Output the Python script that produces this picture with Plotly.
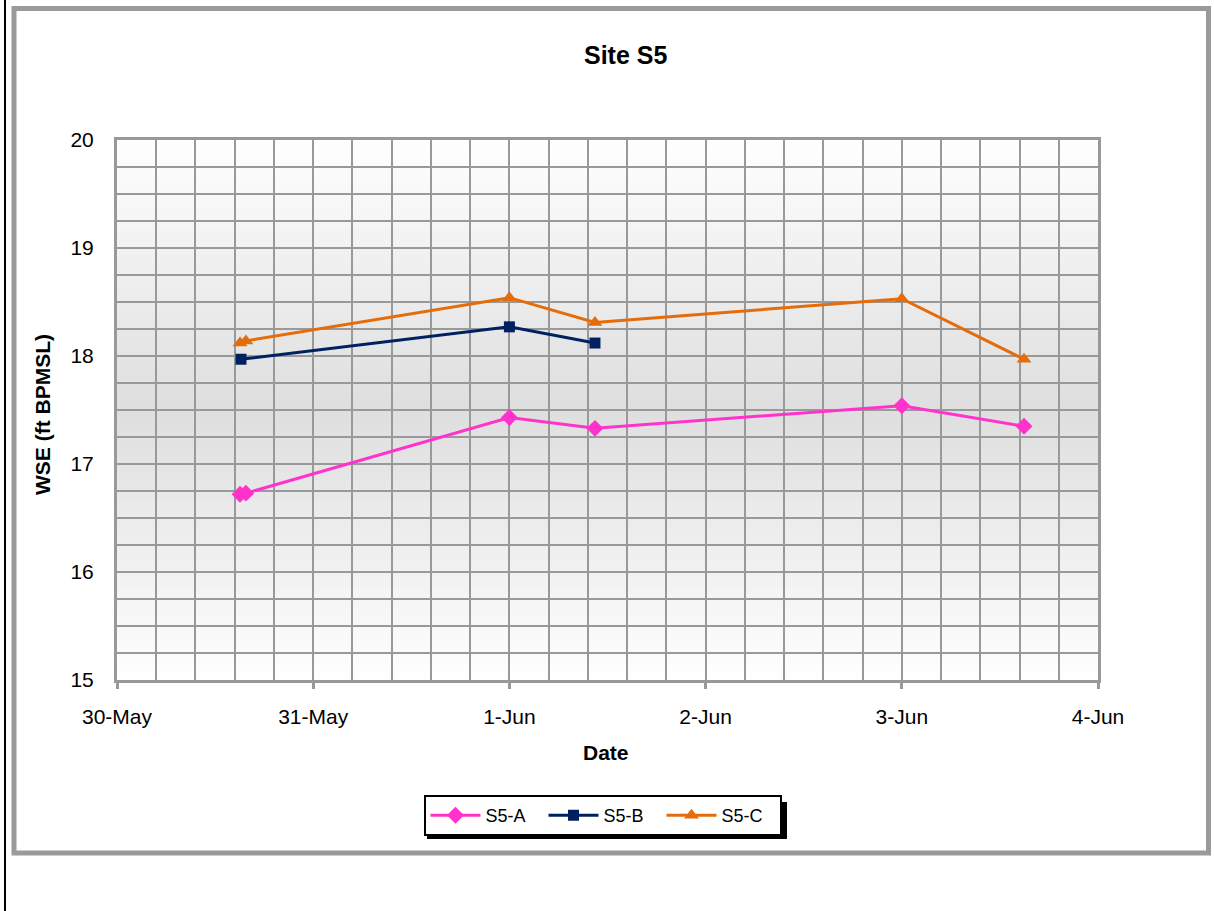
import plotly.graph_objects as go

# ---- data ----
dates_a = ["2008-05-30 15:03", "2008-05-30 15:46", "2008-06-01 00:00",
           "2008-06-01 10:28", "2008-06-03 00:00", "2008-06-03 14:57"]
wse_a = [16.72, 16.73, 17.43, 17.33, 17.54, 17.35]

dates_b = ["2008-05-30 15:10", "2008-06-01 00:00", "2008-06-01 10:28"]
wse_b = [17.97, 18.27, 18.12]

dates_c = ["2008-05-30 15:03", "2008-05-30 15:46", "2008-06-01 00:00",
           "2008-06-01 10:28", "2008-06-03 00:00", "2008-06-03 14:57"]
wse_c = [18.12, 18.14, 18.54, 18.31, 18.53, 17.97]

series_names = ["S5-A", "S5-B", "S5-C"]
x_range = ["2008-05-30", "2008-06-04"]
y_range = [15, 20]

FONT = "Liberation Sans, Arial, sans-serif"
W, H = 1214, 911
L, R, T, B = 117, 1098, 140, 680  # plot area in pixels


def px(x):
    return (x - L) / (R - L)


def py(y):
    return (B - y) / (B - T)


fig = go.Figure()
styles = [
    (dates_a, wse_a, "#FF33CC", "diamond", 13),
    (dates_b, wse_b, "#002060", "square", 11),
    (dates_c, wse_c, "#E46C0A", "triangle-up", 13),
]
for name, (xs, ys, col, sym, sz) in zip(series_names, styles):
    fig.add_trace(go.Scatter(
        x=xs, y=ys, name=name, mode="lines+markers",
        line=dict(color=col, width=3),
        marker=dict(color=col, symbol=sym, size=sz),
    ))

shapes = []
# gradient background (white -> gray -> white)
n = 60
for i in range(n):
    y0 = i / n
    y1 = (i + 1) / n
    t = (y0 + y1) / 2
    mid = 0.5
    d = abs(t - mid) / mid
    v = int(round(222 + (255 - 222) * d))
    shapes.append(dict(type="rect", xref="x domain", yref="y domain",
                       x0=0, x1=1, y0=y0, y1=y1 + 0.001, layer="below",
                       line=dict(width=0), fillcolor=f"rgb({v},{v},{v})"))
# outer gray frame
shapes.append(dict(type="rect", xref="paper", yref="paper",
                   x0=px(14), x1=px(1208.5), y0=py(8.5), y1=py(853),
                   line=dict(color="#9a9a9a", width=5), fillcolor="rgba(0,0,0,0)",
                   layer="below"))
# black line at far left
shapes.append(dict(type="line", xref="paper", yref="paper",
                   x0=px(5), x1=px(5), y0=py(0), y1=py(911),
                   line=dict(color="black", width=2)))
# legend shadow
shapes.append(dict(type="rect", xref="paper", yref="paper",
                   x0=px(427), x1=px(787), y0=py(802), y1=py(839),
                   line=dict(width=0), fillcolor="black"))

annotations = [
    dict(text="<b>Site S5</b>", x=px(625), y=py(55), xref="paper", yref="paper",
         showarrow=False, font=dict(family=FONT, size=25, color="black"),
         xanchor="center", yanchor="middle"),
    dict(text="<b>WSE (ft BPMSL)</b>", x=px(42), y=py(415), xref="paper", yref="paper",
         showarrow=False, textangle=-90, font=dict(family=FONT, size=21, color="black"),
         xanchor="center", yanchor="middle"),
    dict(text="<b>Date</b>", x=px(606), y=py(752), xref="paper", yref="paper",
         showarrow=False, font=dict(family=FONT, size=21, color="black"),
         xanchor="center", yanchor="middle"),
]

grid_col = "#999999"
fig.update_layout(
    width=W, height=H,
    margin=dict(l=L, r=W - R, t=T, b=H - B, pad=0),
    paper_bgcolor="white", plot_bgcolor="white",
    font=dict(family=FONT, size=21, color="black"),
    shapes=shapes, annotations=annotations,
    showlegend=True,
    legend=dict(orientation="h", x=px(602.5), y=py(815.5), xanchor="center",
                yanchor="middle", bgcolor="white", bordercolor="black",
                borderwidth=2, font=dict(family=FONT, size=18, color="black"),
                itemwidth=50, entrywidth=53, tracegroupgap=0),
    xaxis=dict(
        type="date", range=x_range, dtick=86400000, tick0="2008-05-30",
        tickformat="%-d-%b", showgrid=True, gridcolor=grid_col, gridwidth=2,
        minor=dict(dtick=17280000, showgrid=True, gridcolor=grid_col, gridwidth=2),
        showline=True, linecolor=grid_col, linewidth=3, mirror=True,
        ticks="outside", ticklen=6, tickwidth=3, tickcolor=grid_col,
        ticklabelstandoff=10, zeroline=False,
        tickfont=dict(family=FONT, size=21, color="black"),
    ),
    yaxis=dict(
        range=y_range, dtick=1, showgrid=True, gridcolor=grid_col, gridwidth=2,
        minor=dict(dtick=0.25, showgrid=True, gridcolor=grid_col, gridwidth=2),
        showline=True, linecolor=grid_col, linewidth=3, mirror=True,
        ticks="", ticklabelstandoff=16, zeroline=False,
        tickfont=dict(family=FONT, size=21, color="black"),
    ),
)

fig.write_html("out.html", config={"displayModeBar": False},
               post_script="document.body.style.margin='0';")
